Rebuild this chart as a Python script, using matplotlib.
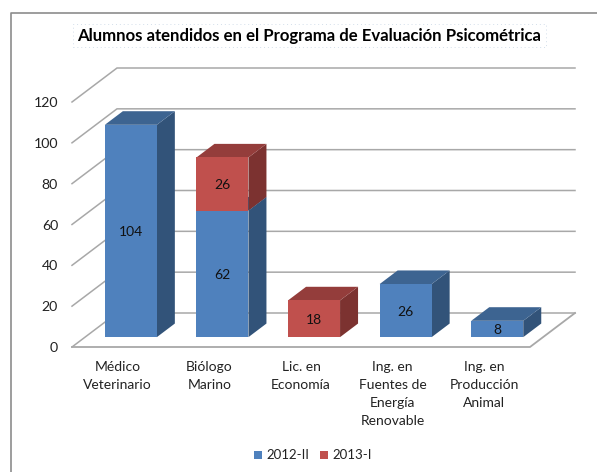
import matplotlib
matplotlib.use("Agg")
import matplotlib.pyplot as plt
from matplotlib.patches import Polygon, Rectangle

categories = ["Médico\nVeterinario", "Biólogo\nMarino", "Lic. en\nEconomía",
              "Ing. en\nFuentes de\nEnergía\nRenovable", "Ing. en\nProducción\nAnimal"]
series_2012 = [104, 62, 0, 26, 8]
series_2013 = [0, 26, 18, 0, 0]
y_ticks = [0, 20, 40, 60, 80, 100, 120]
series_names = ["2012-II", "2013-I"]
title = "Alumnos atendidos en el Programa de Evaluación Psicométrica"

W, H = 597, 472
plt.rcParams['font.family'] = ['Lato', 'DejaVu Sans']
fig = plt.figure(figsize=(W/100, H/100), dpi=100)
ax = fig.add_axes([72/W, 1-347/H, (530-72)/W, (347-102)/H])
ax.set_xlim(-0.5, 4.5)
ax.set_ylim(0, 120)
for s in ax.spines.values():
    s.set_visible(False)
ax.patch.set_visible(False)

# oblique projection: depth 0 = front of the floor, depth 1 = back wall
DX = 45/91.6
DY = 34/(245/120)
def P(x, v, d):
    return (x + d*DX, v + d*DY)

GRID = "#a8a8a8"
for v in y_ticks:
    pts = [P(-0.5, v, 0), P(-0.5, v, 1), P(4.5, v, 1)]
    ax.plot(*zip(*pts), color=GRID, lw=1.1, clip_on=False, zorder=1, solid_joinstyle="miter")
floor = [P(-0.5, 0, 0), P(4.5, 0, 0), P(4.5, 0, 1)]
ax.plot(*zip(*floor), color=GRID, lw=1.3, clip_on=False, zorder=1)

W_BAR = 52/91.6
D0, D1 = 0.29, 0.69
def box(x, v0, v1, front, top, side, z):
    l, r = x - W_BAR/2, x + W_BAR/2
    ax.add_patch(Polygon([P(r, v0, D0), P(r, v0, D1), P(r, v1, D1), P(r, v1, D0)],
                         fc=side, ec="none", clip_on=False, zorder=z))
    ax.add_patch(Polygon([P(l, v1, D0), P(r, v1, D0), P(r, v1, D1), P(l, v1, D1)],
                         fc=top, ec="none", clip_on=False, zorder=z))
    ax.add_patch(Polygon([P(l, v0, D0), P(r, v0, D0), P(r, v1, D0), P(l, v1, D0)],
                         fc=front, ec="none", clip_on=False, zorder=z+0.1))

BLUE = ("#4f81bd", "#3d6491", "#325379")
RED = ("#c0504d", "#943d3b", "#7c3230")
LABEL_DROP = 0.7
for i, (a, b) in enumerate(zip(series_2012, series_2013)):
    if a:
        box(i, 0, a, *BLUE, 3 + i)
        x, y = P(i, a/2, D0)
        ax.text(x, y - LABEL_DROP, str(a), ha="center", va="center", fontsize=10, color="#111111", zorder=9, clip_on=False)
    if b:
        box(i, a, a + b, *RED, 3.5 + i)
        x, y = P(i, a + b/2, D0)
        ax.text(x, y - LABEL_DROP, str(b), ha="center", va="center", fontsize=10, color="#111111", zorder=9, clip_on=False)

ax.set_yticks(y_ticks)
ax.set_xticks(range(len(categories)))
ax.set_xticklabels(categories, fontsize=10, color="#222222", linespacing=1.6)
ax.tick_params(axis="y", length=0, pad=10, labelsize=10.2, labelcolor="#222222")
ax.tick_params(axis="x", length=0, pad=10)

# chart border, title and legend
fig.add_artist(plt.Line2D([10.5/W, 10.5/W, 1], [0, 1-12.5/H, 1-12.5/H], color="#8c8c8c", lw=1.2))
fig.add_artist(Rectangle((73/W, 1-47/H), 473/W, 23/H, fc="none", ec="#d3deea", lw=0.7,
                         ls=(0, (1, 3)), transform=fig.transFigure))
fig.text(309.5/W, 1-35.5/H, title, ha="center", va="center", fontsize=12.1, fontweight="bold", color="black")
sq = 8
fig.add_artist(Rectangle((254/W, 1-459/H), sq/W, sq/H, fc=BLUE[0], ec="none", transform=fig.transFigure))
fig.text(266/W, 1-455/H, series_names[0], va="center", fontsize=9.5, color="#222222")
fig.add_artist(Rectangle((320/W, 1-459/H), sq/W, sq/H, fc=RED[0], ec="none", transform=fig.transFigure))
fig.text(332/W, 1-455/H, series_names[1], va="center", fontsize=9.5, color="#222222")

fig.savefig("out.png", dpi=100)
